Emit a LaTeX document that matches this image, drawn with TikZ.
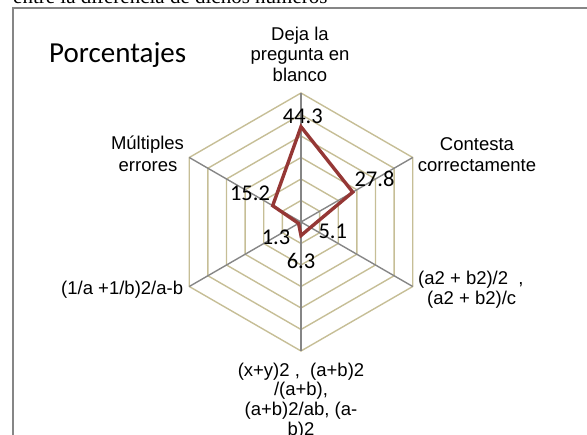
\documentclass[tikz,border=0pt]{standalone}
\usepackage{fontspec}
\setmainfont{Liberation Sans}
\newfontfamily\calfont{Carlito}
\newfontfamily\timesfont{Liberation Serif}
\definecolor{ringc}{RGB}{198,190,150}
\definecolor{spokec}{RGB}{134,134,134}
\definecolor{serc}{RGB}{149,55,53}
\definecolor{framec}{RGB}{134,134,134}
\begin{document}
\begin{tikzpicture}[x=1pt,y=-1pt,
  cat/.style={font=\fontsize{18.5}{20}\selectfont, inner sep=0pt, anchor=base},
  val/.style={font=\calfont\fontsize{22.5}{24}\selectfont, inner sep=0pt, anchor=base},
  ring/.style={draw=ringc, line width=1.4pt},
  spoke/.style={draw=spokec, line width=1.4pt},
  series/.style={draw=serc, line width=3.4pt, line join=miter},
  frameline/.style={draw=framec, line width=1.7pt}]
\useasboundingbox (0,0) rectangle (587,435);
\begin{scope}
\clip (0,0) rectangle (587,435);
% clipped caption text above frame
\node[font=\timesfont\fontsize{21}{24}\selectfont, inner sep=0pt, anchor=base west] (cap) at (13,4) {entre la diferencia de dichos números};
% frame
\draw[frameline] (12.8,440) -- (12.8,8.2) -- (590,8.2);
% title
\node[font=\calfont\fontsize{29}{32}\selectfont, inner sep=0pt, anchor=base west] (title) at (49,63) {Porcentajes};
% grid rings
\foreach \k in {1,...,6}{
  \draw[ring] plot[samples at={90,30,-30,-90,-150,150}] ({301+21.5*\k*cos(\x)},{222-21.5*\k*sin(\x)}) -- cycle;
}
% spokes
\coordinate (c) at (301,222);
\foreach \a/\n in {90/a1,30/a2,-30/a3,-90/a4,-150/a5,150/a6}{
  \coordinate (\n) at ({301+129*cos(\a)},{222-129*sin(\a)});
  \draw[spoke] (c) -- (\n);
}
% series
\coordinate (v1) at ({301+2.15*44.3*cos(90)},{222-2.15*44.3*sin(90)});
\coordinate (v2) at ({301+2.15*27.8*cos(30)},{222-2.15*27.8*sin(30)});
\coordinate (v3) at ({301+2.15*5.1*cos(-30)},{222-2.15*5.1*sin(-30)});
\coordinate (v4) at ({301+2.15*6.3*cos(-90)},{222-2.15*6.3*sin(-90)});
\coordinate (v5) at ({301+2.15*1.3*cos(-150)},{222-2.15*1.3*sin(-150)});
\coordinate (v6) at ({301+2.15*15.2*cos(150)},{222-2.15*15.2*sin(150)});
\draw[series] (v1) -- (v2) -- (v3) -- (v4) -- (v5) -- (v6) -- cycle;
% value labels
\node[val] (l1) at (302.8,123.3) {44.3};
\node[val] (l2) at (374.5,186.7) {27.8};
\node[val] (l3) at (332.8,239) {5.1};
\node[val] (l4) at (301,268.3) {6.3};
\node[val] (l5) at (276,245) {1.3};
\node[val] (l6) at (250,201) {15.2};
% category labels
\node[cat] (t1a) at (300,41) {Deja la};
\node[cat] (t1b) at (300,61) {pregunta en};
\node[cat] (t1c) at (300,81.5) {blanco};
\node[cat] (t2a) at (477,150.7) {Contesta};
\node[cat] (t2b) at (477,171.7) {correctamente};
\node[cat, anchor=base west] (t3a) at (418,285) {(a2 + b2)/2\ \ ,};
\node[cat] (t3b) at (471.7,305) {(a2 + b2)/c};
\node[cat] (t4a) at (301,376.7) {(x+y)2 ,\ \ (a+b)2};
\node[cat] (t4b) at (301,396) {/(a+b),};
\node[cat] (t4c) at (301,416) {(a+b)2/ab, (a-};
\node[cat] (t4d) at (301,435.5) {b)2};
\node[cat, anchor=base east] (t5) at (183.3,295) {(1/a +1/b)2/a-b};
\node[cat] (t6a) at (147.5,149.3) {Múltiples};
\node[cat] (t6b) at (148,171.7) {errores};
\end{scope}
\end{tikzpicture}
\end{document}
